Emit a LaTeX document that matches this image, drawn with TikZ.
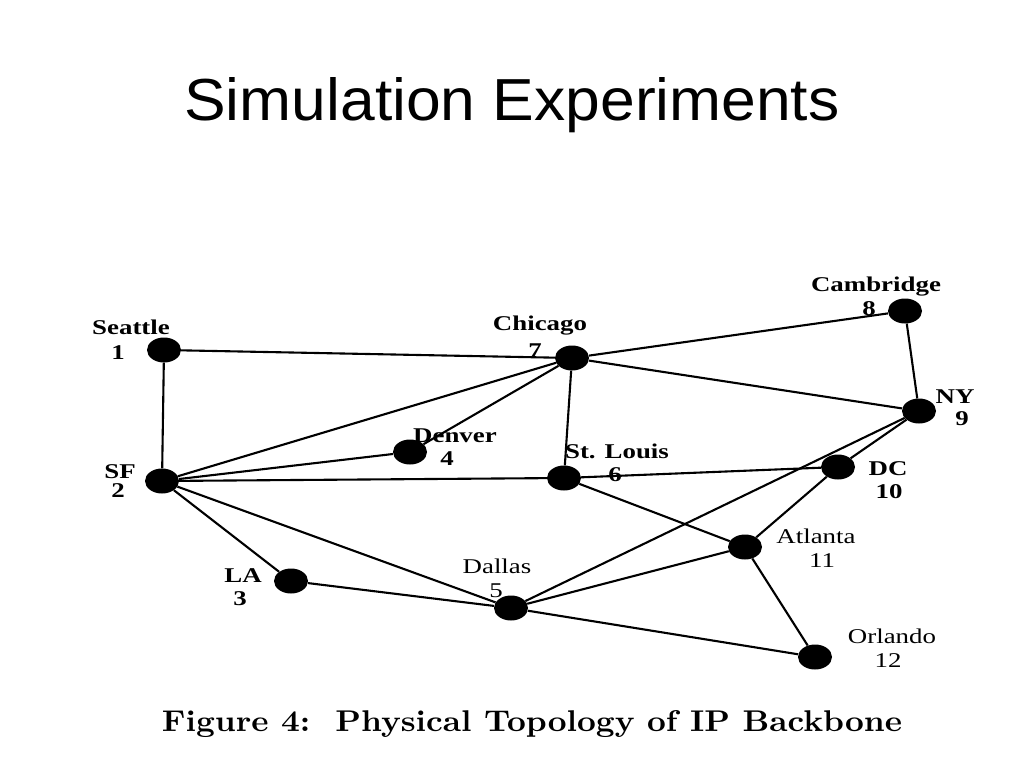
\documentclass[tikz,border=0pt]{standalone}
\usepackage{graphicx}
\usepackage{fontspec}
\usepackage{tikz}
\usetikzlibrary{shapes.geometric}

\newfontfamily\titlefont{Liberation Sans}
\newfontfamily\cityfont[FakeStretch=1.28]{Liberation Serif}

\tikzset{
  site/.style={ellipse, fill=black, minimum width=34pt, minimum height=25pt, inner sep=0pt},
  link/.style={line width=2.1pt},
  tag/.style={anchor=base, inner sep=0pt, font=\cityfont\fontsize{21}{21}\selectfont\bfseries},
  plaintag/.style={anchor=base, inner sep=0pt, font=\cityfont\fontsize{21}{21}\selectfont}
}

\begin{document}
\begin{tikzpicture}[x=1pt,y=-1pt]
        \fill[white] (0,0) rectangle (1024,768);
        \useasboundingbox (0,0) rectangle (1024,768);

        % Title
        \node[anchor=base, inner sep=0pt] (title) at (512,120)
            {\titlefont\resizebox{655pt}{43pt}{Simulation Experiments}};

        % Sites
        \node[site] (sea) at (164,350) {};
        \node[site] (sf)  at (162,481) {};
        \node[site] (la)  at (291,581) {};
        \node[site] (den) at (410,452) {};
        \node[site] (dal) at (511,608) {};
        \node[site] (stl) at (564,478) {};
        \node[site] (chi) at (572,358) {};
        \node[site] (cam) at (905,311) {};
        \node[site] (ny)  at (919,411) {};
        \node[site] (dc)  at (838,467) {};
        \node[site] (atl) at (745,547) {};
        \node[site] (orl) at (815,657) {};

        % Links
        \foreach \a/\b in {sea/chi, sea/sf, sf/chi, sf/den, den/chi, sf/stl,
                           chi/stl, sf/la, sf/dal, la/dal, dal/orl, dal/ny,
                           dal/atl, chi/cam, chi/ny, cam/ny, ny/dc, stl/dc,
                           stl/atl, dc/atl, atl/orl}
            \draw[link] (\a) -- (\b);

        % Names and numbers
        \node[tag] (sea-name) at (131,334) {Seattle};
        \node[tag] (sea-num)  at (118,359) {1};
        \node[tag] (sf-name)  at (120,478) {SF};
        \node[tag] (sf-num)   at (118,497) {2};
        \node[tag] (la-name)  at (243,582) {LA};
        \node[tag] (la-num)   at (240,605) {3};
        \node[tag] (den-name) at (455,442) {Denver};
        \node[tag] (den-num)  at (447,465) {4};
        \node[plaintag] (dal-name) at (497,573) {Dallas};
        \node[plaintag] (dal-num)  at (496,597) {5};
        \node[tag] (stl-name) at (617,458) {St. Louis};
        \node[tag] (stl-num)  at (615,481) {6};
        \node[tag] (chi-name) at (540,330) {Chicago};
        \node[tag] (chi-num)  at (535,357) {7};
        \node[tag] (cam-name) at (876,291) {Cambridge};
        \node[tag] (cam-num)  at (869,315) {8};
        \node[tag] (ny-name)  at (955,403) {NY};
        \node[tag] (ny-num)   at (962,425) {9};
        \node[tag] (dc-name)  at (888,475) {DC};
        \node[tag] (dc-num)   at (889,498) {10};
        \node[plaintag] (atl-name) at (816,543) {Atlanta};
        \node[plaintag] (atl-num)  at (822,567) {11};
        \node[plaintag] (orl-name) at (892,643) {Orlando};
        \node[plaintag] (orl-num)  at (888,667) {12};

        % Caption
        \node[anchor=base, inner sep=0pt] (caption) at (532,731)
            {\resizebox{740pt}{21pt}{\bfseries Figure 4:\ \ Physical Topology of IP Backbone}};
\end{tikzpicture}
\end{document}
